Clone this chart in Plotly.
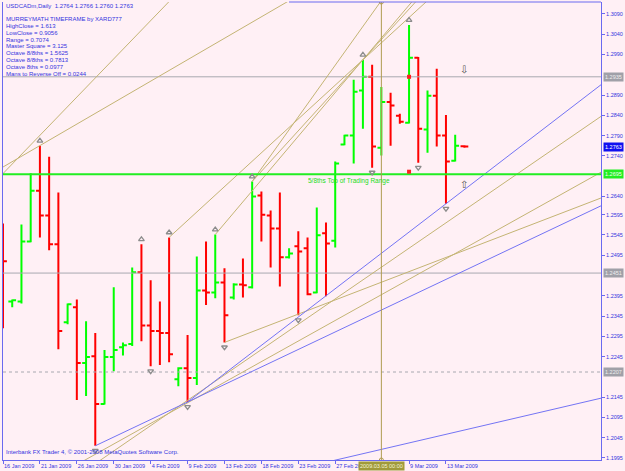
import plotly.graph_objects as go

# ---------------- data ----------------
symbol = "USDCADm,Daily"
bar_idx = list(range(51))
opens = [1.2546, 1.2381, 1.2381, 1.2529, 1.2654, 1.2593, 1.2522, 1.2330, 1.2367, 1.2229,
         1.2246, 1.2128, 1.2244, 1.2268, 1.2276, 1.2453, 1.2322, 1.2308, 1.2303, 1.2189,
         1.2216, 1.2192, 1.2408, 1.2403, 1.2428, 1.2391, 1.2423, 1.2416, 1.2642, 1.2593,
         1.2561, 1.2490, 1.2517, 1.2512, 1.2403, 1.2549, 1.2531, 1.2768, 1.2790, 1.2901,
         1.2935, 1.2760, 1.2873, 1.2839, 1.2822, 1.2982, 1.2805, 1.2888, 1.2790, 1.2728,
         1.2764]
highs = [1.2573, 1.2386, 1.2571, 1.2697, 1.2765, 1.2738, 1.2650, 1.2376, 1.2386, 1.2332,
         1.2303, 1.2261, 1.2416, 1.2280, 1.2465, 1.2522, 1.2433, 1.2381, 1.2539, 1.2219,
         1.2298, 1.2492, 1.2529, 1.2546, 1.2463, 1.2426, 1.2487, 1.2677, 1.2652, 1.2605,
         1.2650, 1.2512, 1.2554, 1.2539, 1.2613, 1.2576, 1.2726, 1.2792, 1.2928, 1.2977,
         1.2965, 1.2910, 1.2896, 1.2844, 1.3063, 1.2984, 1.2901, 1.2955, 1.2841, 1.2792,
         1.2766]
lows = [1.2315, 1.2367, 1.2376, 1.2527, 1.2539, 1.2507, 1.2263, 1.2325, 1.2138, 1.2148,
        1.2025, 1.2127, 1.2209, 1.2248, 1.2271, 1.2283, 1.2221, 1.2224, 1.2231, 1.2172,
        1.2133, 1.2175, 1.2372, 1.2389, 1.2280, 1.2386, 1.2391, 1.2413, 1.2529, 1.2465,
        1.2418, 1.2487, 1.2347, 1.2396, 1.2401, 1.2394, 1.2514, 1.2766, 1.2721, 1.2807,
        1.2711, 1.2741, 1.2765, 1.2819, 1.2820, 1.2723, 1.2748, 1.2763, 1.2622, 1.2726,
        1.2760]
closes = [1.2480, 1.2384, 1.2529, 1.2654, 1.2593, 1.2522, 1.2308, 1.2374, 1.2229, 1.2244,
          1.2128, 1.2244, 1.2261, 1.2273, 1.2453, 1.2322, 1.2308, 1.2303, 1.2251, 1.2216,
          1.2192, 1.2408, 1.2403, 1.2428, 1.2347, 1.2423, 1.2421, 1.2640, 1.2595, 1.2561,
          1.2490, 1.2499, 1.2504, 1.2399, 1.2544, 1.2524, 1.2721, 1.2790, 1.2898, 1.2935,
          1.2763, 1.2873, 1.2864, 1.2824, 1.2982, 1.2807, 1.2888, 1.2790, 1.2726, 1.2765,
          1.2763]

date_tick_idx = [0, 4, 8, 12, 16, 20, 24, 28, 32, 36, 44, 48]
date_tick_text = ["16 Jan 2009", "21 Jan 2009", "26 Jan 2009", "30 Jan 2009", "4 Feb 2009",
                  "9 Feb 2009", "13 Feb 2009", "18 Feb 2009", "23 Feb 2009", "27 Feb 2009",
                  "9 Mar 2009", "13 Mar 2009"]
price_ticks = [1.3090, 1.3040, 1.2990, 1.2890, 1.2840, 1.2790, 1.2740, 1.2640, 1.2595,
               1.2545, 1.2495, 1.2395, 1.2345, 1.2295, 1.2245, 1.2145, 1.2095, 1.2045, 1.1995]

gray_levels = [1.2935, 1.2451]
dotted_level = 1.2207
green_level = 1.2695
fractal_up = [4, 15, 18, 23, 27, 39, 44]
fractal_down = [10, 16, 20, 24, 32, 40, 45, 48]
signal_idx = [44, 44]
signal_price = [1.2935, 1.2701]
cross_idx = 41
cross_label = "2009.03.05 00:00"

info_lines = ["MURREYMATH TIMEFRAME by XARD777", "HighClose = 1.613", "LowClose = 0.9056",
              "Range = 0.7074", "Master Square = 3.125", "Octave 8/8ths = 1.5625",
              "Octave 8/8ths = 0.7813", "Octave 8ths = 0.0977", "Mans to Reverse Off = 0.0244"]

# trend lines: (point A, point B, start x)
olive_lines = [
    ((0.11, 1.2699), (18.14, 1.3124), -2),
    ((0.11, 1.2714), (31.1, 1.3124), -2),
    ((18, highs[18]), (39, highs[39]), 18),
    ((23, highs[23]), (39, highs[39]), 23),
    ((27, highs[27]), (39, highs[39]), 27),
    ((27, highs[27]), (40.28, 1.3100), 27),
    ((10.58, 1.1990), (64.9, 1.2839), 8),
    ((20, 1.2131), (64.9, 1.2701), 5),
    ((24, lows[24]), (64.9, 1.2637), 24),
]
blue_lines = [
    ((10, lows[10]), (20, lows[20]), 10),
    ((20, lows[20]), (48, lows[48]), 20),
    ((36.07, 1.1990), (64.9, 1.2143), 30),
]

# ---------------- style ----------------
BG = "#FFF0F5"
BLUE_TXT = "#3434E0"
FRAME = "#6A6AF0"
OLIVE = "#C4B474"
LBLUE = "#7474F4"
GRAY = "#A8A8B0"
FONT = "Liberation Sans"
XR = [0.0, 64.8]
YR = [1.1990, 1.31195]


def ray(a, b, xs, xe=70):
    (x0, y0), (x1, y1) = a, b
    s = (y1 - y0) / (x1 - x0)
    return [xs, xe], [y0 + s * (xs - x0), y0 + s * (xe - x0)]


fig = go.Figure()

for lv in gray_levels:
    fig.add_trace(go.Scatter(x=XR, y=[lv, lv], mode="lines", line=dict(color=GRAY, width=1),
                             hoverinfo="skip"))
fig.add_trace(go.Scatter(x=XR, y=[dotted_level] * 2, mode="lines",
                         line=dict(color=GRAY, width=1, dash="dot"), hoverinfo="skip"))

for a, b, xs in olive_lines:
    xx, yy = ray(a, b, xs)
    fig.add_trace(go.Scatter(x=xx, y=yy, mode="lines", line=dict(color=OLIVE, width=1),
                             hoverinfo="skip"))
for a, b, xs in blue_lines:
    xx, yy = ray(a, b, xs)
    fig.add_trace(go.Scatter(x=xx, y=yy, mode="lines", line=dict(color=LBLUE, width=1),
                             hoverinfo="skip"))

fig.add_trace(go.Scatter(x=XR, y=[green_level] * 2, mode="lines",
                         line=dict(color="#22EE22", width=2), hoverinfo="skip"))

fig.add_trace(go.Scatter(x=[cross_idx, cross_idx], y=YR, mode="lines+markers",
                         line=dict(color="#B09C50", width=1),
                         marker=dict(symbol="circle-open", size=4, color="#B09C50"),
                         hoverinfo="skip"))

fig.add_trace(go.Ohlc(x=bar_idx, open=opens, high=highs, low=lows, close=closes,
                      increasing=dict(line=dict(color="#00FF00", width=2)),
                      decreasing=dict(line=dict(color="#FF0000", width=2)),
                      tickwidth=0.42))

off = 0.0012
fig.add_trace(go.Scatter(x=fractal_up, y=[highs[i] + off for i in fractal_up], mode="markers",
                         marker=dict(symbol="triangle-up-open", size=5, color="#8C8C8C",
                                     line=dict(width=1.3)), hoverinfo="skip"))
fig.add_trace(go.Scatter(x=fractal_down, y=[lows[i] - off for i in fractal_down], mode="markers",
                         marker=dict(symbol="triangle-down-open", size=5, color="#8C8C8C",
                                     line=dict(width=1.3)), hoverinfo="skip"))
fig.add_trace(go.Scatter(x=signal_idx, y=signal_price, mode="markers",
                         marker=dict(symbol="square", size=4, color="#FF2020"), hoverinfo="skip"))


def py2paper(py):
    return (461 - py) / 459


ann = []
head = f"{symbol}  {opens[-1]:.4f} {highs[-1]:.4f} {lows[-1]:.4f} {closes[-1]:.4f}"
ann.append(dict(text=head, x=0, y=py2paper(6), xref="paper", yref="paper", xanchor="left",
                yanchor="middle", xshift=1, showarrow=False,
                font=dict(family=FONT, size=6, color=BLUE_TXT)))
ys = [19, 26, 33, 40, 46, 53, 60, 67, 74]
for t, yy in zip(info_lines, ys):
    ann.append(dict(text=t, x=0, y=py2paper(yy), xref="paper", yref="paper", xanchor="left",
                    yanchor="middle", xshift=1, showarrow=False,
                    font=dict(family=FONT, size=6, color=BLUE_TXT)))
ann.append(dict(text="Interbank FX Trader 4, © 2001-2008 MetaQuotes Software Corp.", x=0,
                y=py2paper(453), xref="paper", yref="paper", xanchor="left", yanchor="middle",
                xshift=1, showarrow=False, font=dict(family=FONT, size=6, color=BLUE_TXT)))
ann.append(dict(text="5/8ths Top of Trading Range", x=32.8, y=green_level, xref="x", yref="y",
                xanchor="left", yanchor="top", yshift=-1, showarrow=False,
                font=dict(family=FONT, size=6.5, color="#22DD22")))
ann.append(dict(text="⇩", x=50, y=gray_levels[0], xref="x", yref="y", xanchor="center",
                yanchor="bottom", yshift=0, showarrow=False,
                font=dict(family="DejaVu Sans", size=10, color="#505050")))
ann.append(dict(text="⇧", x=50, y=green_level, xref="x", yref="y", xanchor="center",
                yanchor="top", yshift=-3, showarrow=False,
                font=dict(family="DejaVu Sans", size=10, color="#505050")))

boxes = [(gray_levels[0], "#A0A0A8", "#EEEEEE"), (closes[-1], "#1010F0", "#FFFFFF"),
         (green_level, "#22EE22", "#F0FFF0"), (gray_levels[1], "#A0A0A8", "#EEEEEE"),
         (dotted_level, "#A0A0A8", "#EEEEEE")]
for p, bg, fc in boxes:
    ann.append(dict(text=f"{p:.4f}", x=1, y=p, xref="paper", yref="y", xanchor="left",
                    yanchor="middle", xshift=2, showarrow=False, bgcolor=bg, borderpad=1,
                    font=dict(family=FONT, size=5.5, color=fc)))
ann.append(dict(text=cross_label, x=cross_idx, y=0, xref="x", yref="paper", xanchor="center",
                yanchor="top", yshift=-1, showarrow=False, bgcolor="#A09A3A", borderpad=1,
                font=dict(family=FONT, size=5.5, color="#F4F4D8")))

fig.update_layout(
    width=625, height=471, paper_bgcolor=BG, plot_bgcolor=BG, showlegend=False,
    margin=dict(l=3, r=22, t=2, b=10), annotations=ann,
    shapes=[dict(type="line", xref="paper", yref="paper", x0=(290 - 3) / 600, x1=1, y0=1, y1=1,
                 line=dict(color=FRAME, width=1))],
    xaxis=dict(range=XR, rangeslider=dict(visible=False), showgrid=False, zeroline=False,
               showline=True, linecolor=FRAME, linewidth=1, tickvals=date_tick_idx,
               ticktext=date_tick_text, ticks="outside", ticklen=3, tickcolor=FRAME,
               tickangle=0, ticklabelposition="outside right", ticklabelstandoff=0,
               tickfont=dict(family=FONT, size=5.5, color=BLUE_TXT)),
    yaxis=dict(range=YR, side="right", showgrid=False, zeroline=False, showline=True,
               mirror=True, linecolor=FRAME, linewidth=1, tickvals=price_ticks,
               ticktext=[f"{v:.4f}" for v in price_ticks], ticks="outside", ticklen=3,
               tickcolor=FRAME, tickfont=dict(family=FONT, size=5.5, color=BLUE_TXT)),
)

fig.write_html("out.html")
